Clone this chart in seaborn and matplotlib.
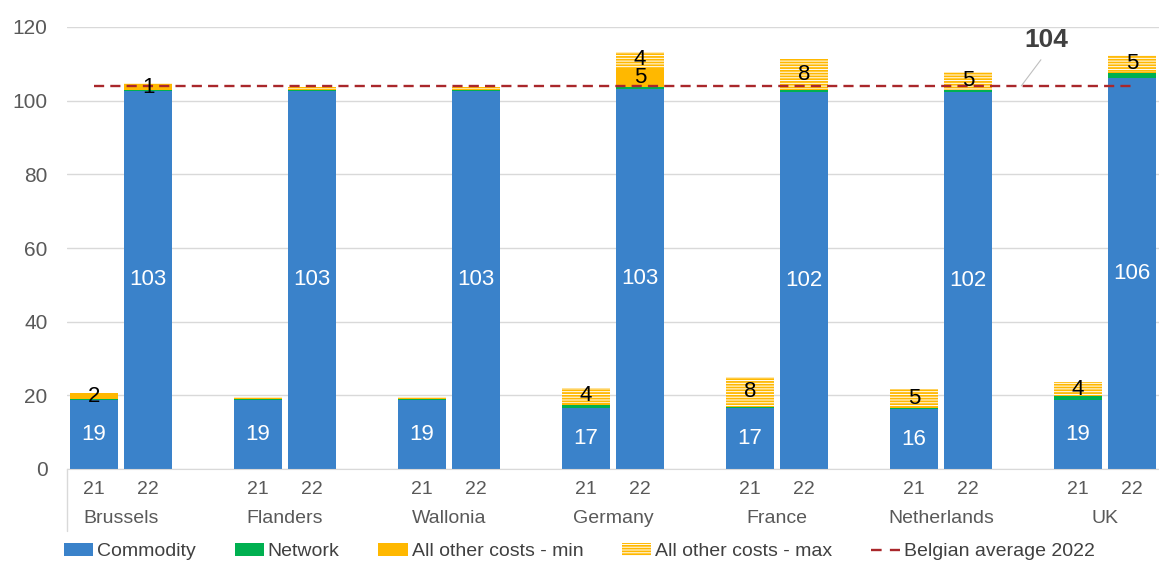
import numpy as np
import pandas as pd
import seaborn as sns
import matplotlib.pyplot as plt
from matplotlib.patches import Patch
from matplotlib.lines import Line2D

# data (two bars per country: 2021, 2022)
countries = ["Brussels", "Flanders", "Wallonia", "Germany", "France", "Netherlands", "UK"]
years = ["21", "22"]
commodity = [18.6, 102.7, 18.6, 102.7, 18.6, 102.7, 16.6, 103.2, 16.6, 102.3, 16.2, 102.4, 18.6, 106.1]
network = [0.3, 0.3, 0.3, 0.3, 0.3, 0.3, 0.9, 0.4, 0.3, 0.5, 0.4, 0.5, 1.1, 1.5]
other_min = [1.6, 1.4, 0.3, 0.3, 0.3, 0.3, 0.5, 5.4, 0.2, 0.4, 0.1, 0.1, 0.1, 0.1]
other_max = [0.0, 0.5, 0.4, 0.5, 0.4, 0.5, 3.9, 4.1, 8.0, 8.0, 4.9, 4.8, 3.8, 4.8]
belgian_avg = 104

BLUE = "#3A82CA"
GREEN = "#00B050"
ORANGE = "#FFB800"
RED = "#A9272B"
GRID = "#D9D9D9"
TXT = "#595959"
HATCH = "------"

sns.set_style("white")
plt.rcParams["font.family"] = ["Liberation Sans", "DejaVu Sans"]
plt.rcParams["hatch.linewidth"] = 1.3

df = pd.DataFrame({
    "country": np.repeat(countries, 2),
    "year": years * len(countries),
    "commodity": commodity,
    "network": network,
    "min": other_min,
    "max": other_max,
})
df["pos"] = np.repeat(np.arange(len(countries)), 2) + np.tile([-0.165, 0.165], len(countries))
df["lvl_net"] = df["commodity"] + df["network"]
df["lvl_min"] = df["lvl_net"] + df["min"]
df["total"] = df["lvl_min"] + df["max"]

fig = plt.figure(figsize=(11.59, 5.61), dpi=100)
ax = fig.add_axes([67 / 1159, 1 - 469 / 561, (1159 - 67) / 1159, (469 - 27) / 561])

W = 0.888
# stacked by overlaying cumulative heights, tallest first
sns.barplot(data=df, x="pos", y="total", native_scale=True, orient="x", width=W,
            color="white", saturation=1, errorbar=None, ax=ax,
            edgecolor=ORANGE, linewidth=0, hatch=HATCH)
sns.barplot(data=df, x="pos", y="lvl_min", native_scale=True, orient="x", width=W,
            color=ORANGE, saturation=1, errorbar=None, ax=ax, linewidth=0)
sns.barplot(data=df, x="pos", y="lvl_net", native_scale=True, orient="x", width=W,
            color=GREEN, saturation=1, errorbar=None, ax=ax, linewidth=0)
sns.barplot(data=df, x="pos", y="commodity", native_scale=True, orient="x", width=W,
            color=BLUE, saturation=1, errorbar=None, ax=ax, linewidth=0)

# Belgian average
ax.hlines(belgian_avg, df["pos"].iloc[0], df["pos"].iloc[-1], colors=RED,
          linestyles=(0, (4.3, 2.6)), lw=1.7, zorder=4)
ax.annotate(str(belgian_avg), xy=(5.49, belgian_avg), xytext=(5.645, 113.2),
            ha="center", va="bottom", fontsize=19, fontweight="bold", color="#404040",
            arrowprops=dict(arrowstyle="-", color="#BFBFBF", lw=0.8,
                            shrinkA=4, shrinkB=0, relpos=(0.5, 0)), zorder=5)

# value labels
for _, r in df.iterrows():
    ax.text(r["pos"], r["commodity"] / 2, f"{round(r['commodity'])}", ha="center", va="center",
            color="white", fontsize=16, zorder=5)
    if r["min"] >= 1:
        ax.text(r["pos"], r["lvl_net"] + r["min"] / 2, f"{round(r['min'])}", ha="center",
                va="center", color="black", fontsize=16, zorder=5)
    if r["max"] >= 1:
        ax.text(r["pos"], r["lvl_min"] + r["max"] / 2, f"{round(r['max'])}", ha="center",
                va="center", color="black", fontsize=16, zorder=5)

ax.set_xlim(-0.33, len(countries) - 1 + 0.33)
ax.set_ylim(0, 120)
ax.set_yticks(range(0, 121, 20))
ax.yaxis.grid(True, color=GRID, lw=1)
ax.set_axisbelow(True)
for s in ["top", "right", "left"]:
    ax.spines[s].set_visible(False)
ax.spines["bottom"].set_color(GRID)
ax.tick_params(axis="y", length=0, pad=14, labelsize=15, labelcolor=TXT)
ax.set_xticks(df["pos"])
ax.set_xticklabels(df["year"])
ax.tick_params(axis="x", length=0, pad=9, labelsize=14, labelcolor=TXT)
ax.set_xlabel("")
ax.set_ylabel("")

for i, c in enumerate(countries):
    ax.text(i, -0.113, c, transform=ax.get_xaxis_transform(), ha="center", va="center",
            fontsize=14, color=TXT)
ax.plot([0, 0], [0, -0.14], transform=ax.transAxes, clip_on=False, color=GRID, lw=1)

handles = [
    Patch(facecolor=BLUE, lw=0),
    Patch(facecolor=GREEN, lw=0),
    Patch(facecolor=ORANGE, lw=0),
    Patch(facecolor="white", edgecolor=ORANGE, hatch=HATCH, lw=0),
    Line2D([], [], color=RED, lw=1.7, ls=(0, (4.5, 3.5))),
]
labels = ["Commodity", "Network", "All other costs - min", "All other costs - max",
          "Belgian average 2022"]
leg = fig.legend(handles, labels, loc="lower center", bbox_to_anchor=(0.5, -0.03), ncol=5,
                 frameon=False, fontsize=14, handlelength=1.5, handletextpad=0.2,
                 columnspacing=2.0)
for t in leg.get_texts():
    t.set_color("#404040")

fig.savefig("out.png", dpi=100)
